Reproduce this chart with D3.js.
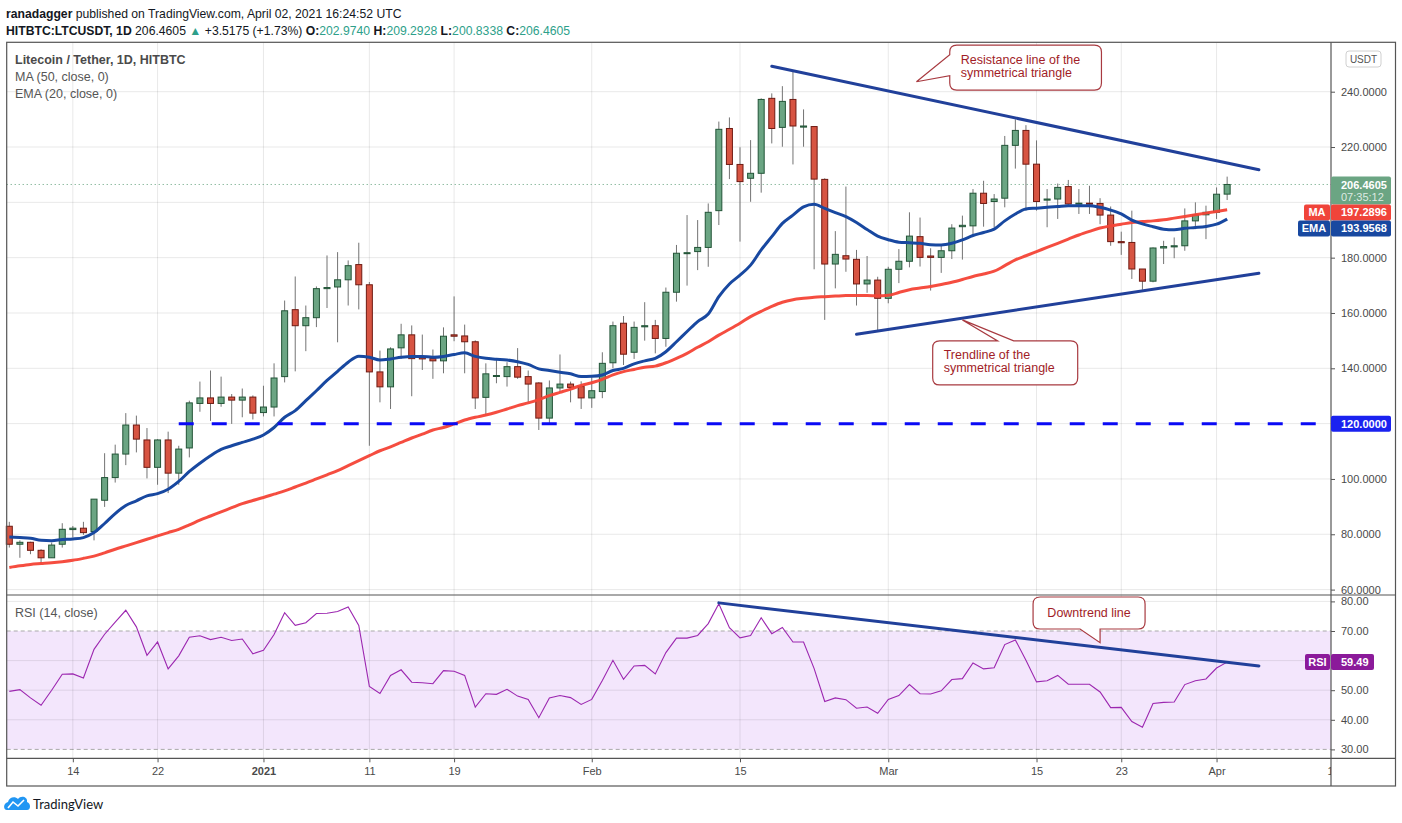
<!DOCTYPE html>
<html>
<head>
<meta charset="utf-8">
<script src="https://cdn.jsdelivr.net/npm/d3@7"></script>
<style>
  html, body { margin: 0; padding: 0; background: #fff; }
  svg { display: block; }
  text { font-family: "Liberation Sans", Arial, sans-serif; }
</style>
</head>
<body>
<svg id="chart" width="1402" height="823"></svg>
<script>
// ---- data ----
// one daily candle per day, first one on 2020-12-08, last one 2021-04-02
var firstDay = "2020-12-08";

var opens = [82.9,76.4,77.1,74.2,71.5,76.4,81.7,82.2,81.0,92.3,100.5,109.0,119.5,114.1,104.2,114.1,102.1,111.2,127.3,129.3,
  127.3,129.6,128.5,129.6,124.0,126.0,137.0,161.2,155.4,158.3,168.8,169.4,172.0,177.5,170.2,138.7,133.3,147.4,152.1,143.9,
  143.5,142.7,152.1,151.7,149.6,129.5,137.1,137.0,140.6,137.0,134.7,122.0,132.9,134.3,133.4,129.3,131.6,142.0,156.3,145.8,
  155.0,155.4,150.8,167.5,181.6,182.2,183.7,197.0,226.7,213.7,208.7,210.5,237.6,227.1,237.2,227.2,227.4,208.3,177.7,180.7,
  179.4,170.5,171.9,165.3,175.8,178.7,187.6,180.6,180.1,182.5,191.2,191.5,203.3,200.3,201.5,220.6,226.0,213.8,200.8,201.2,
  205.7,199.4,199.7,199.6,195.4,185.8,185.5,175.9,171.5,183.5,183.9,184.3,193.3,195.5,196.4,202.974];
var highs = [84.5,77.8,77.3,74.6,77.0,84.0,83.0,84.5,92.7,109.3,112.4,123.8,122.9,118.4,114.4,117.1,112.0,128.3,135.2,139.2,
  137.0,130.7,132.7,130.2,133.7,141.8,164.5,173.2,162.7,169.6,180.8,182.0,179.0,185.4,171.2,146.4,147.6,156.1,155.5,152.2,
  146.8,154.8,166.0,155.8,150.1,141.8,143.4,142.2,147.3,139.2,135.0,135.6,145.0,135.2,135.3,136.8,145.8,156.9,158.9,156.9,
  163.9,157.5,169.2,184.6,195.4,193.6,199.6,229.2,230.7,219.9,222.5,237.6,239.4,242.0,247.2,233.6,227.4,208.7,189.6,205.7,
  182.8,180.6,173.1,176.7,183.1,196.4,194.5,183.4,184.3,192.1,195.2,204.8,207.8,203.0,224.0,230.0,227.9,222.4,204.8,206.8,
  208.1,204.8,206.0,201.5,198.5,189.4,197.0,175.9,183.7,186.1,187.3,197.8,200.0,198.8,205.4,209.2928];
var lows = [75.2,71.5,72.8,69.1,71.5,75.2,78.8,79.8,77.8,89.9,98.7,105.0,109.6,100.2,97.9,94.9,97.9,107.8,124.3,121.0,
  126.1,119.9,122.3,121.5,122.6,122.6,134.9,138.9,146.2,154.9,161.8,149.4,162.7,161.3,112.0,127.7,125.3,143.4,129.9,139.4,
  136.2,138.2,149.8,138.2,125.3,122.9,134.6,133.4,136.2,127.7,117.7,120.2,131.3,127.7,125.3,125.7,129.2,140.0,141.2,143.4,
  150.0,145.4,147.8,164.1,169.9,175.5,176.7,191.8,208.4,185.8,200.2,203.5,221.3,220.1,213.7,220.1,175.8,157.5,168.9,174.9,
  162.7,167.3,153.3,163.5,170.8,176.5,176.8,168.1,174.5,179.5,179.3,188.5,191.2,191.0,198.2,212.2,197.0,197.0,191.0,194.0,
  198.8,195.8,195.8,192.1,184.3,181.0,172.3,168.4,171.1,177.7,179.8,182.5,190.3,186.7,194.0,200.8338];
var closes = [76.4,77.1,74.2,71.5,76.1,81.8,82.2,80.6,92.7,100.5,109.0,119.5,114.4,104.2,114.1,102.1,110.8,127.5,129.3,127.3,
  129.6,128.5,129.6,123.8,126.0,136.5,160.8,155.4,158.3,168.8,169.2,172.0,177.1,170.2,138.7,133.3,147.0,152.1,143.5,143.4,
  142.7,151.6,151.6,149.6,129.3,138.0,137.4,140.6,136.8,134.3,122.0,132.9,134.3,133.1,129.3,131.9,141.8,155.4,145.1,154.8,
  155.4,150.8,167.5,181.6,181.8,183.7,196.4,226.4,213.7,207.5,210.5,237.2,226.7,236.5,227.6,227.6,208.4,177.7,181.2,179.5,
  170.5,171.9,165.3,175.8,178.7,187.8,180.1,180.1,182.5,190.7,191.7,203.3,199.6,201.2,220.6,226.0,213.8,200.3,201.2,205.4,
  199.4,199.7,199.4,195.4,185.8,185.4,175.9,171.5,183.5,184.0,184.3,193.3,195.5,196.4,202.94,206.4605];

var ma50 = [68.0,68.6,69.1,69.4,69.7,70.1,70.6,71.3,72.1,73.3,74.6,75.8,77.0,78.2,79.4,80.6,81.8,83.4,85.1,86.6,
  88.1,89.6,91.1,92.2,93.3,94.5,95.7,97.1,98.5,100.0,101.5,103.0,104.8,106.6,108.4,110.2,111.6,113.2,114.8,116.2,
  117.7,118.6,119.9,121.3,122.3,123.1,124.1,125.3,126.5,127.5,128.7,130.1,131.3,132.5,133.8,134.8,136.0,137.6,138.8,139.6,
  140.4,140.8,142.0,143.6,145.4,147.6,149.6,152.0,154.1,156.3,158.7,160.6,162.4,163.9,164.8,165.3,165.7,165.9,166.1,166.3,
  166.3,166.3,166.2,166.4,167.4,168.4,169.0,169.6,170.3,171.1,172.1,173.2,174.1,175.1,177.1,179.2,180.7,182.2,183.7,185.2,
  186.7,188.2,189.5,190.7,191.5,192.1,192.7,193.1,193.3,193.7,194.3,194.9,195.5,196.1,196.7,197.2896];
var ema20 = [79.0,78.8,78.6,77.8,77.7,78.1,78.3,78.8,80.6,83.9,87.5,90.4,92.1,93.9,94.7,96.3,99.1,102.7,105.7,108.4,
  110.7,112.0,113.2,114.4,115.9,118.6,122.3,124.7,128.3,131.9,135.6,138.9,142.2,144.4,144.0,143.0,143.4,144.0,144.3,144.3,
  144.0,144.3,145.0,145.6,144.3,143.6,143.3,143.0,142.4,141.4,139.8,139.2,138.6,138.0,137.0,137.1,137.6,139.2,140.0,141.6,
  142.7,143.6,146.0,149.6,153.3,156.9,159.6,165.9,170.5,173.7,177.3,182.8,187.6,192.4,195.4,198.4,199.3,197.8,196.3,194.8,
  192.7,190.2,187.8,186.5,185.6,185.4,185.2,184.7,184.6,185.2,186.4,188.0,189.1,190.3,193.3,195.8,197.6,197.9,198.2,198.5,
  198.8,198.8,198.8,198.2,197.2,195.8,193.6,192.2,191.2,190.3,190.1,190.6,190.9,191.3,192.1,193.9568];
var rsi14 = [49.6,50.2,47.4,44.9,50.0,55.4,55.5,54.1,63.8,68.9,73.0,77.0,71.4,61.8,66.3,57.2,61.6,67.9,68.4,67.1,
  67.9,66.8,67.3,62.3,63.5,68.8,76.2,71.9,72.8,75.9,76.0,76.6,78.1,71.9,51.3,48.9,55.0,56.9,52.7,52.5,
  52.2,56.6,56.4,55.0,44.3,48.8,48.6,50.3,48.0,46.9,40.7,47.4,48.2,47.5,45.2,46.9,53.3,60.1,53.7,58.2,
  58.4,55.5,62.7,67.6,67.6,68.5,72.5,79.2,71.1,67.7,68.5,74.5,69.1,71.2,66.3,66.3,57.3,46.2,47.4,46.8,
  43.9,44.3,42.2,46.9,48.2,51.9,48.8,48.7,49.8,53.6,53.9,59.2,57.2,57.6,65.4,67.0,60.1,52.8,53.2,55.0,
  52.0,52.0,52.0,49.4,44.1,44.2,39.4,37.5,45.5,45.9,46.0,51.9,53.2,53.8,57.5,59.49];

var tickDates = ["2020-12-14","2020-12-22","2021-01-01","2021-01-11","2021-01-19","2021-02-01",
  "2021-02-15","2021-03-01","2021-03-15","2021-03-23","2021-04-01","2021-04-12"];
var tickLabels = ["14","22","2021","11","19","Feb","15","Mar","15","23","Apr","12"];
var priceTicks = [60,80,100,120,140,160,180,200,220,240];
var rsiGrid = [40,50,60,80];
var rsiBand = [30,70];
var rsiLabels = [30,40,50,70,80];

// drawings: [date, value] end points
var resistanceLine = [["2021-02-18",249.2],["2021-04-05",211.8]];
var supportLine = [["2021-02-26",152.3],["2021-04-05",174.4]];
var rsiDownLine = [["2021-02-13",79.5],["2021-04-05",58.2]];
var levelLine = [["2020-12-24",120],["2021-04-13",120]];

var lastPrice = 206.4605, lastMA = 197.2896, lastEMA = 193.9568, lastRSI = 59.49;

// ---- layout ----
var svg = d3.select("#chart");
var left = 6.7, axisX = 1331, right = 1395.5;
var mainTop = 42.3, mainBottom = 595, rsiBottom = 758.3, axisBottom = 786;

var parse = d3.utcParse("%Y-%m-%d");
var day0 = parse(firstDay);
var days = d3.utcDay.range(day0, d3.utcDay.offset(day0, opens.length));

var x = d3.scaleUtc()
    .domain([day0, days[days.length - 1]])
    .range([9.3, 9.3 + 10.59 * (days.length - 1)]);
var y = d3.scaleLinear().domain([60, 240]).range([589.6, 91.7]);
var yr = d3.scaleLinear().domain([30, 80]).range([749.4, 601.4]);

var candles = days.map(function(d, i) {
    return {date: d, o: opens[i], h: highs[i], l: lows[i], c: closes[i]};
});

var gridColor = "rgba(0,0,0,0.09)";
var textColor = "#4a4a4a";

// RSI band
svg.append("rect")
    .attr("x", left).attr("width", axisX - left)
    .attr("y", yr(70)).attr("height", yr(30) - yr(70))
    .attr("fill", "#f3e6fc");

// horizontal grid
svg.append("g").selectAll("line")
    .data(priceTicks).join("line")
    .attr("x1", left).attr("x2", axisX)
    .attr("y1", d => y(d)).attr("y2", d => y(d))
    .attr("stroke", gridColor);
svg.append("g").selectAll("line")
    .data(rsiGrid).join("line")
    .attr("x1", left).attr("x2", axisX)
    .attr("y1", d => yr(d)).attr("y2", d => yr(d))
    .attr("stroke", gridColor);
svg.append("g").selectAll("line")
    .data(rsiBand).join("line")
    .attr("x1", left).attr("x2", axisX)
    .attr("y1", d => yr(d)).attr("y2", d => yr(d))
    .attr("stroke", "#a9a9a9").attr("stroke-dasharray", "4,3");

// vertical grid
svg.append("g").selectAll("line")
    .data(tickDates.map(parse).filter(d => x(d) < axisX)).join("line")
    .attr("x1", d => x(d)).attr("x2", d => x(d))
    .attr("y1", mainTop).attr("y2", rsiBottom)
    .attr("stroke", gridColor);

// last price dotted line
svg.append("line")
    .attr("x1", left).attr("x2", axisX)
    .attr("y1", y(lastPrice)).attr("y2", y(lastPrice))
    .attr("stroke", "#5e9e78").attr("stroke-dasharray", "1,3");

// candles
var cg = svg.append("g");
var candle = cg.selectAll("g").data(candles).join("g");
candle.append("line")
    .attr("x1", d => x(d.date)).attr("x2", d => x(d.date))
    .attr("y1", d => y(d.h)).attr("y2", d => y(d.l))
    .attr("stroke", "#737373").attr("stroke-width", 1);
candle.append("rect")
    .attr("x", d => x(d.date) - 3)
    .attr("width", 6)
    .attr("y", d => y(Math.max(d.o, d.c)))
    .attr("height", d => Math.max(1, Math.abs(y(d.o) - y(d.c))))
    .attr("fill", d => d.c >= d.o ? "#6ba583" : "#d75442")
    .attr("stroke", d => d.c >= d.o ? "#225437" : "#6f1a12")
    .attr("stroke-width", 1);

// moving averages
var maLine = d3.line().x((d, i) => x(days[i])).y(d => y(d)).curve(d3.curveMonotoneX);
svg.append("path").datum(ma50)
    .attr("d", maLine).attr("fill", "none")
    .attr("stroke", "#f44336").attr("stroke-width", 3).attr("stroke-opacity", 0.95);
svg.append("path").datum(ema20)
    .attr("d", maLine).attr("fill", "none")
    .attr("stroke", "#1848a0").attr("stroke-width", 3);

// RSI
svg.append("path").datum(rsi14)
    .attr("d", d3.line().x((d, i) => x(days[i])).y(d => yr(d)))
    .attr("fill", "none").attr("stroke", "#9c27b0").attr("stroke-width", 1.1);

// drawings
function seg(pts, scale) {
    return pts.map(p => [x(parse(p[0])), scale(p[1])]);
}
svg.append("path")
    .attr("d", d3.line()(seg(levelLine, y).map((p, i) => [i ? axisX : p[0], p[1]])))
    .attr("stroke", "#0a0af5").attr("stroke-width", 3).attr("stroke-dasharray", "15,18");
[resistanceLine, supportLine].forEach(function(l) {
    svg.append("path").attr("d", d3.line()(seg(l, y)))
        .attr("stroke", "#21409a").attr("stroke-width", 3).attr("stroke-linecap", "round");
});
svg.append("path").attr("d", d3.line()(seg(rsiDownLine, yr)))
    .attr("stroke", "#21409a").attr("stroke-width", 3).attr("stroke-linecap", "round");

// callouts: tip anchored to chart values, box offset in px
function calloutPath(bx, by, w, h, r, side, a, b, tx, ty) {
    var p = "M" + (bx + r) + "," + by;
    if (side === "top") p += "H" + (bx + a) + "L" + tx + "," + ty + "L" + (bx + b) + "," + by;
    p += "H" + (bx + w - r) + "Q" + (bx + w) + "," + by + " " + (bx + w) + "," + (by + r);
    p += "V" + (by + h - r) + "Q" + (bx + w) + "," + (by + h) + " " + (bx + w - r) + "," + (by + h);
    if (side === "bottom") p += "H" + (bx + b) + "L" + tx + "," + ty + "L" + (bx + a) + "," + (by + h);
    p += "H" + (bx + r) + "Q" + bx + "," + (by + h) + " " + bx + "," + (by + h - r);
    if (side === "left") p += "V" + (by + b) + "L" + tx + "," + ty + "L" + bx + "," + (by + a);
    p += "V" + (by + r) + "Q" + bx + "," + by + " " + (bx + r) + "," + by + "Z";
    return p;
}
var callouts = [
    {tip: ["2021-03-03", 243.6], scale: y, dx: 33.3, dy: -36.7, w: 151.7, h: 45, side: "left", a: 9.7, b: 30.7,
     lines: ["Resistance line of the", "symmetrical triangle"], tx: 11, ty: 19, anchor: "start"},
    {tip: ["2021-03-08", 157.5], scale: y, dx: -29.7, dy: 21, w: 145, h: 44, side: "top", a: 65, b: 81,
     lines: ["Trendline of the", "symmetrical triangle"], tx: 11, ty: 18, anchor: "start"},
    {tip: ["2021-03-21", 66.05], scale: yr, dx: -67, dy: -45.7, w: 112, h: 32, side: "bottom", a: 47, b: 67,
     lines: ["Downtrend line"], tx: 56, ty: 20, anchor: "middle"}
];
callouts.forEach(function(c) {
    var tx = x(parse(c.tip[0])) + (c.side === "left" ? 7 : 0), ty = c.scale(c.tip[1]);
    var bx = tx + c.dx, by = ty + c.dy;
    svg.append("path")
        .attr("d", calloutPath(bx, by, c.w, c.h, 7, c.side, c.a, c.b, tx, ty))
        .attr("fill", "#fff").attr("stroke", "#a83a40").attr("stroke-width", 1.2);
    svg.append("text")
        .attr("x", bx + c.tx).attr("y", by + c.ty)
        .attr("text-anchor", c.anchor)
        .attr("fill", "#a11d27").style("font-size", "12.5px")
        .selectAll("tspan").data(c.lines).join("tspan")
        .attr("x", bx + c.tx).attr("dy", (d, i) => i ? 13 : 0)
        .text(d => d);
});

// frame
var frame = svg.append("g").attr("stroke", "#555").attr("stroke-width", 1.2).attr("fill", "none");
frame.append("rect").attr("x", left).attr("y", mainTop).attr("width", right - left).attr("height", axisBottom - mainTop);
frame.append("line").attr("x1", left).attr("x2", right).attr("y1", mainBottom).attr("y2", mainBottom);
frame.append("line").attr("x1", left).attr("x2", right).attr("y1", rsiBottom).attr("y2", rsiBottom);
frame.append("line").attr("x1", axisX).attr("x2", axisX).attr("y1", mainTop).attr("y2", axisBottom);

// price axis
var priceAxis = d3.axisRight(y)
    .tickValues(priceTicks.filter(d => d !== 200))
    .tickSize(4).tickPadding(6)
    .tickFormat(d => d.toFixed(4));
var pa = svg.append("g").attr("transform", "translate(" + axisX + ",0)").call(priceAxis);
pa.select(".domain").remove();
pa.selectAll("line").attr("stroke", "#555");
pa.selectAll("text").attr("fill", textColor).style("font-size", "11px").style("font-family", "Liberation Sans");

var rsiAxis = d3.axisRight(yr)
    .tickValues(rsiLabels)
    .tickSize(4).tickPadding(6)
    .tickFormat(d => d.toFixed(2));
var ra = svg.append("g").attr("transform", "translate(" + axisX + ",0)").call(rsiAxis);
ra.select(".domain").remove();
ra.selectAll("line").attr("stroke", "#555");
ra.selectAll("text").attr("fill", textColor).style("font-size", "11px").style("font-family", "Liberation Sans");

// time axis (clipped at the price axis)
svg.append("clipPath").attr("id", "xclip")
    .append("rect").attr("x", left).attr("y", rsiBottom).attr("width", axisX - left).attr("height", 40);
var timeAxis = d3.axisBottom(x)
    .tickValues(tickDates.map(parse))
    .tickSize(4).tickPadding(5)
    .tickFormat((d, i) => tickLabels[i]);
var ta = svg.append("g").attr("clip-path", "url(#xclip)")
    .append("g").attr("transform", "translate(0," + rsiBottom + ")").call(timeAxis);
ta.select(".domain").remove();
ta.selectAll("line").attr("stroke", "#555");
ta.selectAll("text").attr("fill", textColor).style("font-size", "11px").style("font-family", "Liberation Sans")
    .style("font-weight", d => d3.utcFormat("%m-%d")(d) === "01-01" ? "bold" : null);

// price labels on the axis
var boxW = 60;
var labelG = svg.append("g").style("font-size", "11px").style("font-weight", "bold");
var gTop = y(lastPrice) - 8;
labelG.append("rect").attr("x", axisX).attr("y", gTop).attr("width", boxW).attr("height", 28)
    .attr("rx", 2).attr("fill", "#6ba583");
labelG.append("text").attr("x", axisX + 10).attr("y", gTop + 12.5).attr("fill", "#fff").text(lastPrice.toFixed(4));
labelG.append("text").attr("x", axisX + 10).attr("y", gTop + 25).attr("fill", "rgba(255,255,255,0.78)")
    .style("font-weight", "normal").text("07:35:12");

var stacked = [
    {name: "MA", v: lastMA, color: "#f0443a", nameW: 26},
    {name: "EMA", v: lastEMA, color: "#1848a0", nameW: 32}
];
var prevBottom = gTop + 28;
stacked.forEach(function(s) {
    var top = Math.max(y(s.v) - 8, prevBottom);
    prevBottom = top + 16;
    labelG.append("rect").attr("x", axisX - s.nameW - 1).attr("y", top).attr("width", s.nameW).attr("height", 16)
        .attr("rx", 2).attr("fill", s.color);
    labelG.append("text").attr("x", axisX - 1 - s.nameW / 2).attr("y", top + 12).attr("text-anchor", "middle")
        .attr("fill", "#fff").text(s.name);
    labelG.append("rect").attr("x", axisX).attr("y", top).attr("width", boxW).attr("height", 16)
        .attr("rx", 2).attr("fill", s.color);
    labelG.append("text").attr("x", axisX + 10).attr("y", top + 12).attr("fill", "#fff").text(s.v.toFixed(4));
});

labelG.append("rect").attr("x", axisX).attr("y", y(120) - 8).attr("width", boxW).attr("height", 16)
    .attr("rx", 2).attr("fill", "#1a22f0");
labelG.append("text").attr("x", axisX + 10).attr("y", y(120) + 4).attr("fill", "#fff").text("120.0000");

labelG.append("rect").attr("x", axisX - 26).attr("y", yr(lastRSI) - 8).attr("width", 25).attr("height", 16)
    .attr("rx", 2).attr("fill", "#8b1a9a");
labelG.append("text").attr("x", axisX - 13.5).attr("y", yr(lastRSI) + 4).attr("text-anchor", "middle")
    .attr("fill", "#fff").text("RSI");
labelG.append("rect").attr("x", axisX).attr("y", yr(lastRSI) - 8).attr("width", 43).attr("height", 16)
    .attr("rx", 2).attr("fill", "#8b1a9a");
labelG.append("text").attr("x", axisX + 10).attr("y", yr(lastRSI) + 4).attr("fill", "#fff").text(lastRSI.toFixed(2));

// currency tag
svg.append("rect").attr("x", 1346).attr("y", 51).attr("width", 35).attr("height", 16).attr("rx", 3)
    .attr("fill", "#fff").attr("stroke", "#d0d0d0");
svg.append("text").attr("x", 1363.5).attr("y", 63).attr("text-anchor", "middle")
    .attr("fill", "#555").style("font-size", "10px").text("USDT");

// header
var head = svg.append("g").style("font-family", "Lato").style("font-size", "12.2px").attr("fill", "#131722");
var h1 = head.append("text").attr("x", 6).attr("y", 18);
h1.append("tspan").style("font-weight", "bold").text("ranadagger");
h1.append("tspan").text(" published on TradingView.com, April 02, 2021 16:24:52 UTC");
var teal = "#2e9f8a";
var h2 = head.append("text").attr("x", 6).attr("y", 35);
[["HITBTC:LTCUSDT, 1D", "b"], ["  206.4605 ", null], ["\u25B2", "t"], [" +3.5175 (+1.73%) ", null],
 ["O:", "b"], ["202.9740", "t"], [" H:", "b"], ["209.2928", "t"], [" L:", "b"], ["200.8338", "t"],
 [" C:", "b"], ["206.4605", "t"]].forEach(function(p) {
    var t = h2.append("tspan").text(p[0]);
    if (p[1] === "b") t.style("font-weight", "bold");
    if (p[1] === "t") t.attr("fill", teal);
});

var legend = svg.append("g").style("font-family", "Lato").style("font-size", "12.5px").attr("fill", "#555");
legend.append("text").attr("x", 15).attr("y", 64).style("font-weight", "bold").attr("fill", "#4a4a4a")
    .text("Litecoin / Tether, 1D, HITBTC");
legend.append("text").attr("x", 15).attr("y", 81).text("MA (50, close, 0)");
legend.append("text").attr("x", 15).attr("y", 98).text("EMA (20, close, 0)");
legend.append("text").attr("x", 15).attr("y", 617).text("RSI (14, close)");

// logo
var logo = svg.append("g");
logo.append("path")
    .attr("d", "M7,810 C3,810 3,803 8,802 C9,797 15,796 18,799 C21,795 28,797 27,802 C31,803 31,810 27,810 Z")
    .attr("fill", "#2196f3");
logo.append("path").attr("d", "M8,808 L13,802 L18,806 L24,800")
    .attr("fill", "none").attr("stroke", "#fff").attr("stroke-width", 1.6);
svg.append("text").attr("x", 33).attr("y", 809).style("font-family", "Lato").style("font-size", "13px")
    .attr("fill", "#131722").text("TradingView");
</script>
</body>
</html>
